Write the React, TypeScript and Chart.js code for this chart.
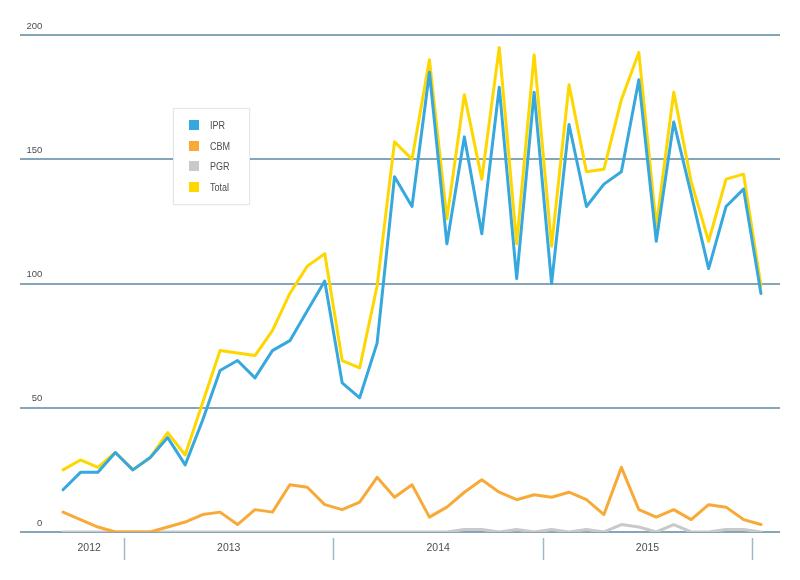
import React, { useEffect, useRef } from 'react';
import { Chart, registerables } from 'chart.js';

Chart.register(...registerables);

const months = [
  '2012-09', '2012-10', '2012-11', '2012-12',
  '2013-01', '2013-02', '2013-03', '2013-04', '2013-05', '2013-06',
  '2013-07', '2013-08', '2013-09', '2013-10', '2013-11', '2013-12',
  '2014-01', '2014-02', '2014-03', '2014-04', '2014-05', '2014-06',
  '2014-07', '2014-08', '2014-09', '2014-10', '2014-11', '2014-12',
  '2015-01', '2015-02', '2015-03', '2015-04', '2015-05', '2015-06',
  '2015-07', '2015-08', '2015-09', '2015-10', '2015-11', '2015-12',
  '2016-01',
];

const yearLabels = ['2012', '2013', '2014', '2015'];

const ipr = [17, 24, 24, 32, 25, 30, 38, 27, 45, 65, 69, 62, 73, 77, 89, 101, 60, 54, 76, 143, 131, 185, 116, 159, 120, 179, 102, 177, 100, 164, 131, 140, 145, 182, 117, 165, 136, 106, 131, 138, 96];
const cbm = [8, 5, 2, 0, 0, 0, 2, 4, 7, 8, 3, 9, 8, 19, 18, 11, 9, 12, 22, 14, 19, 6, 10, 16, 21, 16, 13, 15, 14, 16, 13, 7, 26, 9, 6, 9, 5, 11, 10, 5, 3];
const pgr = [0, 0, 0, 0, 0, 0, 0, 0, 0, 0, 0, 0, 0, 0, 0, 0, 0, 0, 0, 0, 0, 0, 0, 1, 1, 0, 1, 0, 1, 0, 1, 0, 3, 2, 0, 3, 0, 0, 1, 1, 0];
const total = [25, 29, 26, 32, 25, 30, 40, 31, 52, 73, 72, 71, 81, 96, 107, 112, 69, 66, 99, 157, 150, 190, 126, 176, 142, 195, 116, 192, 115, 180, 145, 146, 174, 193, 123, 177, 141, 117, 142, 144, 99];

const seriesNames = ['IPR', 'CBM', 'PGR', 'Total'];
const seriesData = [ipr, cbm, pgr, total];
const seriesColors = ['#37a8de', '#f8aa38', '#c9c9c9', '#fed700'];

const FONT = "'Liberation Sans', Arial, sans-serif";

const framePlugin = {
  id: 'frame',
  beforeDatasetsDraw(chart: any) {
    const { ctx, scales } = chart;
    const x = scales.x;
    const y = scales.y;
    ctx.save();
    ctx.strokeStyle = '#84a6b8';
    ctx.lineWidth = 2;
    y.ticks.forEach((t: any) => {
      const py = Math.round(y.getPixelForValue(t.value));
      ctx.beginPath();
      ctx.moveTo(20, py);
      ctx.lineTo(780, py);
      ctx.stroke();
    });
    ctx.strokeStyle = '#9dbacb';
    ctx.lineWidth = 1.5;
    for (let i = 1; i < months.length; i++) {
      if (months[i].endsWith('-01')) {
        const px = Math.round((x.getPixelForValue(i - 1) + x.getPixelForValue(i)) / 2) + 0.5;
        ctx.beginPath();
        ctx.moveTo(px, y.bottom + 6);
        ctx.lineTo(px, y.bottom + 28);
        ctx.stroke();
      }
    }
    ctx.restore();
  },
};

export default function App() {
  const canvasRef = useRef<HTMLCanvasElement>(null);

  useEffect(() => {
    if (!canvasRef.current) return;
    const chart = new Chart(canvasRef.current, {
      type: 'line',
      data: {
        labels: months,
        datasets: seriesNames.map((name, i) => ({
          label: name,
          data: seriesData[i],
          borderColor: seriesColors[i],
          backgroundColor: seriesColors[i],
          borderWidth: 3,
          borderJoinStyle: 'round',
          borderCapStyle: 'round',
          pointRadius: 0,
          tension: 0,
          fill: false,
        })),
      },
      options: {
        animation: false,
        responsive: false,
        layout: { padding: { top: 35, right: 30.3, left: 0, bottom: 0 } },
        plugins: {
          legend: { display: false },
          tooltip: { enabled: false },
        },
        scales: {
          x: {
            type: 'category',
            offset: true,
            grid: { display: false, drawTicks: false },
            border: { display: false },
            ticks: {
              autoSkip: false,
              maxRotation: 0,
              minRotation: 0,
              padding: 10,
              labelOffset: 8.7,
              color: '#4d4d4d',
              font: { family: FONT, size: 10.5 },
              callback: (_v: any, idx: number) => {
                const yr = months[idx].slice(0, 4);
                if (!yearLabels.includes(yr)) return '';
                const idxs = months.map((m, i) => (m.startsWith(yr) ? i : -1)).filter((i) => i >= 0);
                const mid = idxs[0] + idxs.length / 2 - 1;
                return idx === mid ? yr : '';
              },
            },
            afterFit: (scale: any) => {
              scale.height = 48;
            },
          },
          y: {
            min: 0,
            max: 200,
            grid: { display: false, drawTicks: false },
            border: { display: false },
            ticks: {
              stepSize: 50,
              padding: 12,
              labelOffset: -9,
              color: '#4d4d4d',
              font: { family: FONT, size: 9.5 },
            },
            afterFit: (scale: any) => {
              scale.width = 54.3;
            },
          },
        },
      },
      plugins: [framePlugin],
    } as any);
    return () => chart.destroy();
  }, []);

  return (
    <div style={{ position: 'absolute', left: 0, top: 0, width: 800, height: 580, background: '#fff' }}>
      <canvas ref={canvasRef} width={800} height={580} style={{ position: 'absolute', left: 0, top: 0 }} />
      <div
        style={{
          position: 'absolute',
          left: 173,
          top: 108,
          width: 77,
          height: 97,
          boxSizing: 'border-box',
          border: '1px solid #e6e6e6',
          boxShadow: '0 0 2px rgba(0,0,0,0.06)',
          background: '#fff',
          fontFamily: FONT,
          fontSize: 11,
          color: '#4d4d4d',
        }}
      >
        {seriesNames.map((n, i) => (
          <div
            key={n}
            style={{
              position: 'absolute',
              left: 15,
              top: 10 + i * 20.7,
              height: 12,
              display: 'flex',
              alignItems: 'center',
              whiteSpace: 'nowrap',
            }}
          >
            <span style={{ display: 'inline-block', width: 10, height: 10, background: seriesColors[i] }} />
            <span
              style={{
                marginLeft: 11,
                lineHeight: '12px',
                display: 'inline-block',
                transform: 'scaleX(0.82)',
                transformOrigin: 'left center',
              }}
            >
              {n}
            </span>
          </div>
        ))}
      </div>
    </div>
  );
}
